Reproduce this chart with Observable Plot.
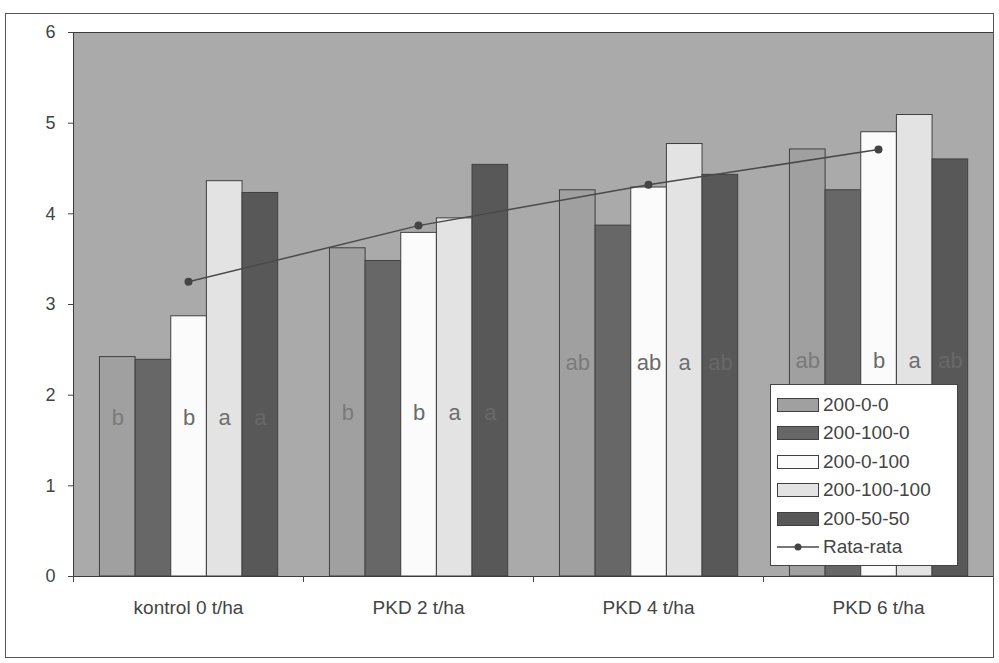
<!DOCTYPE html>
<html>
<head>
<meta charset="utf-8">
<script src="https://cdn.jsdelivr.net/npm/d3@7"></script>
<script src="https://cdn.jsdelivr.net/npm/@observablehq/plot@0.6"></script>
<style>
  body { margin: 0; background: #fff; font-family: "Liberation Sans", Arial, sans-serif; }
  #wrap { position: relative; width: 999px; height: 663px; overflow: hidden; }
  #outer { position: absolute; left: 5px; top: 13px; width: 989px; height: 645px; border: 1px solid #555; box-sizing: border-box; pointer-events: none; }
  #legend { position: absolute; left: 770px; top: 384px; width: 188px; height: 182px; background: #fff; border: 1px solid #444; box-sizing: border-box; }
  #legend .row { position: absolute; left: 6px; height: 24px; display: flex; align-items: center; font-size: 19px; color: #444; }
  #legend svg { margin-right: 4px; }
</style>
</head>
<body>
<div id="wrap">
  <div id="chart"></div>
  <div id="outer"></div>
  <div id="legend"></div>
</div>
<script>
const categories = ["kontrol 0 t/ha", "PKD 2 t/ha", "PKD 4 t/ha", "PKD 6 t/ha"];
const series = ["200-0-0", "200-100-0", "200-0-100", "200-100-100", "200-50-50"];
const v200_0_0     = [2.42, 3.62, 4.26, 4.71];
const v200_100_0   = [2.39, 3.48, 3.87, 4.26];
const v200_0_100   = [2.87, 3.79, 4.29, 4.90];
const v200_100_100 = [4.36, 3.95, 4.77, 5.09];
const v200_50_50   = [4.23, 4.54, 4.43, 4.60];
const rataRata     = [3.25, 3.87, 4.32, 4.71];
const l200_0_0     = ["b", "b", "ab", "ab"];
const l200_100_0   = ["", "", "", ""];
const l200_0_100   = ["b", "b", "ab", "b"];
const l200_100_100 = ["a", "a", "a", "a"];
const l200_50_50   = ["a", "a", "ab", "ab"];
const labelY       = [1.75, 1.8, 2.35, 2.38];
const yTicks = [0, 1, 2, 3, 4, 5, 6];
const colors = ["#a0a0a0", "#676767", "#fbfbfb", "#e3e3e3", "#585858"];
const letterColors = ["#7a7a7a", "#6e6e6e", "#6a6a6a", "#6e6e6e", "#686868"];
const lineName = "Rata-rata";

const valuesBySeries = [v200_0_0, v200_100_0, v200_0_100, v200_100_100, v200_50_50];
const lettersBySeries = [l200_0_0, l200_100_0, l200_0_100, l200_100_100, l200_50_50];

const W = 999, H = 663, mL = 73, mR = 6, mT = 32, mB = 87;
const step = (W - mL - mR) / categories.length;
const groupPad = 0.115, barFrac = 0.155;

const bars = series.map((s, i) => categories.map((c, j) => ({category: c, series: s, value: valuesBySeries[i][j]})));
const labels = series.map((s, i) => categories.map((c, j) => ({category: c, series: s, letter: lettersBySeries[i][j], ly: labelY[j]})));
const avg = categories.map((c, j) => ({category: c, value: rataRata[j]}));

const marks = [Plot.frame({fill: "#aaaaaa"})];
series.forEach((s, i) => {
  marks.push(Plot.barY(bars[i], {
    x: "category", y: "value", fill: "series", stroke: "#404040", strokeWidth: 1,
    insetLeft: step * (groupPad + i * barFrac),
    insetRight: step * (1 - groupPad - (i + 1) * barFrac)
  }));
});
marks.push(Plot.line(avg, {x: "category", y: "value", stroke: "#4a4a4a", strokeWidth: 1.5}));
marks.push(Plot.dot(avg, {x: "category", y: "value", r: 4, fill: "#444", stroke: "none"}));
series.forEach((s, i) => {
  marks.push(Plot.text(labels[i], {
    x: "category", y: "ly", text: "letter",
    dx: step * (groupPad + (i + 0.5) * barFrac - 0.5),
    fontSize: 22, fill: letterColors[i]
  }));
});
marks.push(Plot.frame({stroke: "#3c3c3c", strokeWidth: 1}));
marks.push(Plot.axisY({ticks: yTicks, tickFormat: d3.format("d"), tickSize: 5, tickPadding: 13, fontSize: 18, label: null, stroke: "#444", fill: "#444"}));
marks.push(Plot.axisX({tickSize: 0, tickPadding: 24, fontSize: 19, label: null, fill: "#444"}));
marks.push(Plot.axisX({tickSize: 6, tickFormat: () => "", label: null, dx: -step / 2, stroke: "#444"}));

const chart = Plot.plot({
  width: W, height: H,
  marginLeft: mL, marginRight: mR, marginTop: mT, marginBottom: mB,
  style: {fontFamily: "'Liberation Sans', Arial, sans-serif", background: "transparent", color: "#444"},
  x: {type: "band", domain: categories, padding: 0},
  y: {domain: [0, 6]},
  color: {domain: series, range: colors},
  marks
});
document.getElementById("chart").appendChild(chart);

// Legend
const legend = document.getElementById("legend");
const rowTop = 8, rowStep = 28.4;
series.forEach((s, i) => {
  const row = document.createElement("div");
  row.className = "row";
  row.style.top = (rowTop + i * rowStep) + "px";
  row.innerHTML = `<svg width="42" height="14"><rect x="0.5" y="0.5" width="41" height="13" fill="${colors[i]}" stroke="#404040"/></svg><span>${s}</span>`;
  legend.appendChild(row);
});
const lrow = document.createElement("div");
lrow.className = "row";
lrow.style.top = (rowTop + series.length * rowStep) + "px";
lrow.innerHTML = `<svg width="42" height="14"><line x1="0" y1="7" x2="42" y2="7" stroke="#4a4a4a" stroke-width="1.5"/><circle cx="21" cy="7" r="3.5" fill="#444"/></svg><span>${lineName}</span>`;
legend.appendChild(lrow);
</script>
</body>
</html>
